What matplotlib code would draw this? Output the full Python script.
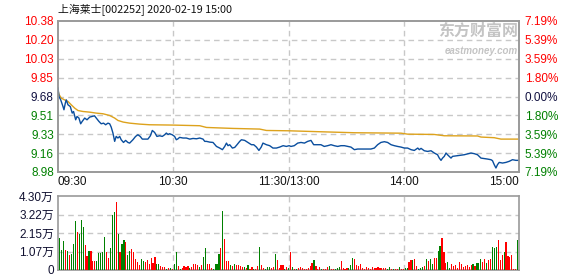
import matplotlib
matplotlib.use('Agg')
import matplotlib.pyplot as plt
import numpy as np

plt.rcParams['font.family'] = ['Liberation Sans', 'Noto Sans CJK SC', 'DejaVu Sans']

title = "上海莱士[002252] 2020-02-19 15:00"
price_labels = ["10.38", "10.20", "10.03", "9.85", "9.68", "9.51", "9.33", "9.16", "8.98"]
pct_labels = ["7.19%", "5.39%", "3.59%", "1.80%", "0.00%", "1.80%", "3.59%", "5.39%", "7.19%"]
vol_labels = ["4.30万", "3.22万", "2.15万", "1.07万", "0"]
time_labels = ["09:30", "10:30", "11:30/13:00", "14:00", "15:00"]

# minutes since open, price
price_min = [0, 0.5, 1.4, 2.6, 3.1, 3.8, 4.3, 5.2, 6.4, 7.4, 8.1, 9.2, 9.9, 10.9, 11.8, 12.6,
             13.9, 15.1, 16.5, 17.8, 19.0, 19.9, 21.3, 22.5, 23.7, 24.8, 26.0, 26.9, 27.7, 28.6,
             29.5, 30.3, 31.2, 32.1, 32.9, 34.1, 35.2, 36.4, 37.3, 39.0, 40.4, 41.6, 42.8, 43.9,
             46.8, 48.1, 49.1, 50.3, 51.5, 52.9, 54.3, 55.5, 56.4, 57.3, 58.1, 59.5, 60.7, 61.6,
             62.5, 63.3, 65.1, 66.8, 68.6, 70.3, 72.1, 73.8, 75.5, 76.4, 77.3, 79.0, 80.7, 82.5,
             84.2, 85.6, 86.8, 87.7, 88.5, 89.4, 90.8, 92.0, 93.2, 94.6, 95.5, 97.2, 98.9, 100.7,
             101.9, 103.3, 104.6, 105.8, 106.7, 108.5, 110.2, 111.9, 113.7, 115.4, 117.2, 118.9,
             120.3, 121.3, 123.0, 124.8, 126.5, 128.3, 130.0, 131.7, 133.1, 135.2, 136.9, 138.6,
             140.4, 142.1, 143.8, 145.6, 147.3, 149.1, 150.8, 152.5, 154.3, 156.0, 162.9, 164.7,
             166.4, 168.1, 169.9, 171.6, 173.4, 175.1, 176.8, 178.6, 180.3, 182.0, 183.8, 185.5,
             187.3, 188.1, 189.0, 190.7, 192.4, 194.2, 195.9, 197.6, 198.5, 199.4, 200.2, 201.1,
             202.0, 202.8, 203.7, 204.6, 205.4, 208.0, 211.5, 215.0, 216.7, 218.4, 220.2, 223.6,
             225.4, 226.2, 227.1, 228.0, 228.8, 229.7, 231.4, 233.2, 234.9, 236.6, 238.4, 240.0]
price_val = [9.76, 9.68, 9.649, 9.587, 9.557, 9.618, 9.649, 9.603, 9.587, 9.526, 9.541, 9.464,
             9.495, 9.480, 9.427, 9.449, 9.480, 9.464, 9.489, 9.495, 9.501, 9.480, 9.449, 9.427,
             9.433, 9.418, 9.433, 9.427, 9.396, 9.341, 9.264, 9.310, 9.295, 9.310, 9.279, 9.254,
             9.273, 9.254, 9.248, 9.279, 9.310, 9.325, 9.310, 9.285, 9.285, 9.316, 9.365, 9.347,
             9.310, 9.316, 9.310, 9.325, 9.341, 9.328, 9.335, 9.325, 9.310, 9.279, 9.288, 9.301,
             9.295, 9.295, 9.285, 9.291, 9.288, 9.295, 9.285, 9.264, 9.264, 9.257, 9.254, 9.217,
             9.202, 9.187, 9.217, 9.248, 9.224, 9.233, 9.202, 9.208, 9.233, 9.264, 9.279, 9.273,
             9.254, 9.233, 9.233, 9.211, 9.180, 9.211, 9.248, 9.233, 9.224, 9.202, 9.202, 9.211,
             9.224, 9.217, 9.224, 9.217, 9.224, 9.248, 9.254, 9.248, 9.264, 9.273, 9.233, 9.233,
             9.233, 9.217, 9.224, 9.233, 9.224, 9.217, 9.224, 9.224, 9.217, 9.211, 9.187, 9.193,
             9.193, 9.202, 9.233, 9.254, 9.261, 9.254, 9.233, 9.224, 9.217, 9.211, 9.202, 9.202,
             9.187, 9.180, 9.202, 9.187, 9.199, 9.177, 9.171, 9.177, 9.156, 9.140, 9.109, 9.088,
             9.109, 9.125, 9.156, 9.140, 9.125, 9.109, 9.125, 9.131, 9.140, 9.156, 9.150, 9.140,
             9.109, 9.100, 9.094, 9.085, 9.048, 9.017, 9.048, 9.069, 9.063, 9.069, 9.079, 9.094,
             9.088, 9.088]

avg_min = [0, 0.5, 1.7, 3.4, 5.2, 6.9, 8.7, 10.4, 13.0, 16.5, 19.9, 23.4, 26.9, 29.5, 31.2,
           33.9, 37.3, 42.5, 47.7, 59.9, 73.8, 77.3, 91.1, 105.0, 108.5, 120.3, 136.9, 154.3,
           178.6, 182.0, 195.9, 201.1, 218.4, 220.2, 227.1, 230.6, 240.0]
avg_val = [9.74, 9.70, 9.665, 9.649, 9.634, 9.603, 9.572, 9.55, 9.541, 9.535, 9.526, 9.52,
           9.504, 9.48, 9.458, 9.443, 9.433, 9.424, 9.418, 9.415, 9.409, 9.393, 9.384, 9.378,
           9.365, 9.362, 9.353, 9.344, 9.340, 9.331, 9.328, 9.316, 9.314, 9.304, 9.298, 9.285,
           9.285]

# volume in 万
vol_values = [
    1.87, 1.17, 1.69, 1.17, 1.11, 0.88, 0.93, 1.52, 2.86, 2.22, 2.10, 2.92, 2.51, 1.46, 0.82,
    1.11, 1.11, 0.53, 0.53, 0.53, 0.99, 0.99, 1.05, 1.93, 1.05, 0.70, 1.28, 3.21, 3.39, 3.97,
    2.10, 1.05, 1.52, 1.75, 1.63, 0.88, 1.11, 1.23, 1.05,
    0.64, 0.47, 0.29, 0.64, 0.53, 0.47, 0.58, 0.35, 0.70, 0.41, 0.76, 0.35, 0.35, 0.23, 0.18,
    0.18, 0.06, 0.12, 0.12, 0.06, 0.35, 1.05, 0.23, 0.06, 0.12, 0.23, 0.18, 0.23, 0.12, 0.18,
    0.35, 0.35, 0.29, 0.18, 0.29, 0.76, 1.28, 0.35, 0.35, 0.12,
    0.06, 0.35, 0.35, 0.93, 1.28, 3.44, 1.81, 0.53, 0.53, 0.29, 0.23, 0.35, 0.29, 0.29, 0.23,
    0.18, 0.18, 0.12, 0.29, 0.06, 0.18, 0.06, 0.06, 0.23, 1.34, 0.29, 0.12, 0.06, 0.18, 0.18,
    0.12, 0.18, 0.93, 0.58, 0.12, 0.29, 0.29, 0.06, 0.18, 0.12,
    1.05, 0.18, 0.06, 0.06, 0.12, 0.18, 0.12, 0.06, 0.06, 0.12, 0.23, 0.41, 0.58, 0.23, 0.06,
    0.18, 0.06, 0.06, 0.06, 0.18, 0.23, 0.06, 0.06, 0.06, 0.12, 0.18, 0.53, 0.12, 0.06, 0.12,
    0.12, 0.29, 0.70, 0.64, 0.29, 0.23, 0.35, 0.12, 0.06,
    0.18, 0.12, 0.06, 0.18, 0.12, 0.12, 0.18, 0.12, 0.12, 0.12, 0.12, 0.06, 0.18, 0.06, 0.06,
    0.06, 0.06, 0.18, 0.06, 0.06, 0.12, 0.12, 0.47, 0.58, 0.58, 0.64, 0.23, 0.06, 0.12, 0.18,
    0.23, 0.64, 0.53, 0.64, 0.35, 0.70, 0.70, 1.11, 1.40, 1.87,
    1.05, 0.41, 0.47, 0.12, 0.35, 0.23, 0.29, 0.12, 0.47, 0.35, 0.18, 0.23, 0.29, 0.18, 0.29,
    0.35, 0.23, 0.41, 0.41, 0.64, 0.47, 0.64, 0.41, 0.58, 0.64, 1.34, 1.28, 1.34, 1.75, 0.58,
    0.88, 1.05, 1.63, 0.82, 0.76, 0.88, 0.06, 0.03, 1.75]
# r = up minute, g = down minute
vol_dirs = ("gggrgrgggrgggrrgrrrgggggrrgggrgrggrggrr"
            "rrrggrrrrrrggrrrgrgrggrgrrrrgrrrrgrggrrr"
            "ggggrgrrrgrgrrrrgrgrrgrrgrrgggrrgrrrrgrg"
            "rgrgrrrrrrrrgrrrgrrrgrrgggrrrrgggrrrrrr"
            "rrrrrrrrrrrggrgrrgrrggrrgrrgggrgrggrrggr"
            "rrggrrrrrrrrrrrgrgggrrgrrgggrrrgrrrrrrg")

RED = '#ff0000'
GREEN = '#008000'
GRID = '#c8c8c8'
FRAME = '#9a9a9a'

W, H = 578, 276
fig = plt.figure(figsize=(W / 100, H / 100), dpi=100)
fig.patch.set_facecolor('white')

L, R = 58, 519
ax = fig.add_axes([L / W, 1 - 172 / H, (R - L) / W, (172 - 21) / H])
axv = fig.add_axes([L / W, 1 - 270 / H, (R - L) / W, (270 - 196) / H])

label_colors = [RED, RED, RED, RED, '#101040', GREEN, GREEN, GREEN, GREEN]

# ---- price panel ----
ax.set_xlim(0, 240)
ax.set_ylim(8.98, 10.38)
yt = np.linspace(10.38, 8.98, 9)
for y in yt[1:-1]:
    ax.axhline(y, color=GRID, lw=1, ls=(0, (4, 3)), zorder=1)
for x in [60, 120, 180]:
    ax.axvline(x, color=GRID, lw=1, ls=(0, (4, 3)), zorder=1)
ax.plot(avg_min, avg_val, color='#dda21c', lw=1.0, zorder=3)
ax.plot(price_min, price_val, color='#0a4e9e', lw=1.0, zorder=4)
ax.set_yticks(yt)
ax.set_yticklabels(price_labels, fontsize=8.5)
for t, c in zip(ax.get_yticklabels(), label_colors):
    t.set_color(c)
ax.tick_params(axis='y', length=0, pad=3)
ax.set_xticks([])
ax2 = ax.twinx()
ax2.set_ylim(ax.get_ylim())
ax2.set_yticks(yt)
ax2.set_yticklabels(pct_labels, fontsize=8.5)
for t, c in zip(ax2.get_yticklabels(), label_colors):
    t.set_color(c)
ax2.tick_params(axis='y', length=0, pad=4)
for a in (ax, ax2):
    for s in a.spines.values():
        s.set_color(FRAME)
        s.set_linewidth(1.2)

tx = [0, 60, 120, 180, 240]
ha = ['left', 'center', 'center', 'center', 'right']
for x, lab, h in zip(tx, time_labels, ha):
    ax.text(x, -10 / 151, lab, transform=ax.get_xaxis_transform(), ha=h, va='center',
            fontsize=8.5, color='#111111')

ax.text(0.997, 0.985, "东方财富网", transform=ax.transAxes, ha='right', va='top',
        fontsize=11.5, fontweight='bold', color='#c4c4c4', family=['Noto Sans CJK SC'])
ax.text(0.997, 0.835, "eastmoney.com", transform=ax.transAxes, ha='right', va='top',
        fontsize=7, fontweight='bold', style='italic', color='#c4c4c4')

fig.text(L / W, 1 - 10 / H, title, ha='left', va='center', fontsize=7.8, color='#111111',
         family=['Noto Sans CJK SC', 'DejaVu Sans'])

# ---- volume panel ----
n = len(vol_values)
xpos = np.linspace(1, 239.3, n)
cols = [RED if d == 'r' else GREEN for d in vol_dirs[:n]]
axv.set_xlim(0, 240)
axv.set_ylim(0, 4.30)
vt = np.linspace(4.30, 0, 5)
for y in vt[1:-1]:
    axv.axhline(y, color=GRID, lw=1, ls=(0, (4, 3)), zorder=1)
for x in [60, 120, 180]:
    axv.axvline(x, color=GRID, lw=1, ls=(0, (4, 3)), zorder=1)
axv.bar(xpos, vol_values, width=0.6, color=cols, zorder=3, linewidth=0, antialiased=False)
axv.set_yticks(vt)
axv.set_yticklabels(vol_labels, fontsize=8.5, color='#101030')
axv.tick_params(axis='y', length=0, pad=3)
axv.set_xticks([])
for s in axv.spines.values():
    s.set_color(FRAME)
    s.set_linewidth(1.2)

fig.savefig('out.png', dpi=100, facecolor='white')
